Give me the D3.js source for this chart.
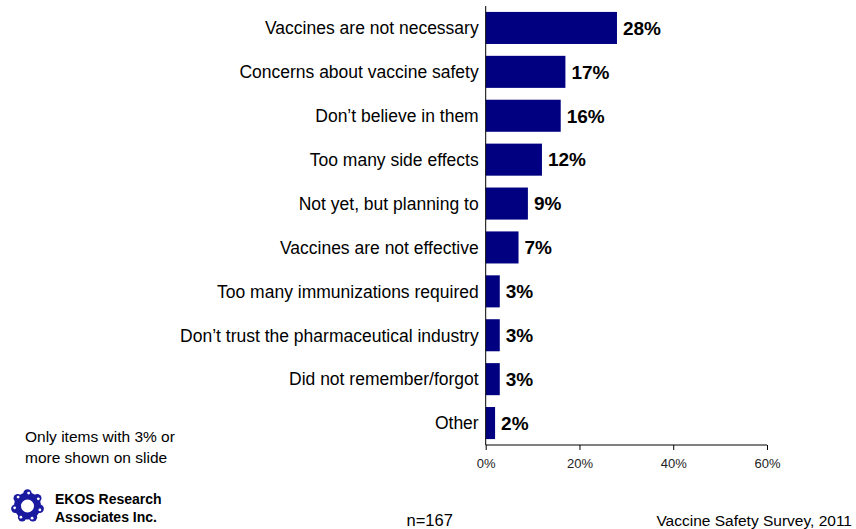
<!DOCTYPE html>
<html>
<head>
<meta charset="utf-8">
<script src="https://cdn.jsdelivr.net/npm/d3@7"></script>
<style>
  html, body { margin: 0; padding: 0; background: #fff; }
  svg { display: block; }
  text { font-family: "Liberation Sans", Arial, sans-serif; }
</style>
</head>
<body>
<svg id="chart" width="856" height="529"></svg>
<script>
const categories = [
  "Vaccines are not necessary",
  "Concerns about vaccine safety",
  "Don\u2019t believe in them",
  "Too many side effects",
  "Not yet, but planning to",
  "Vaccines are not effective",
  "Too many immunizations required",
  "Don\u2019t trust the pharmaceutical industry",
  "Did not remember/forgot",
  "Other"
];
const values = [28, 17, 16, 12, 9, 7, 3, 3, 3, 2];
const tickValues = [0, 20, 40, 60];

const svg = d3.select("#chart");

const x = d3.scaleLinear().domain([0, 60]).range([485.7, 767]);
const y = d3.scaleBand().domain(categories).range([6, 445])
  .paddingInner(0.27).paddingOuter(0.135);

// bars
svg.append("g").selectAll("rect").data(values).join("rect")
  .attr("x", x(0))
  .attr("y", (d, i) => y(categories[i]))
  .attr("width", d => x(d) - x(0))
  .attr("height", y.bandwidth())
  .attr("fill", "#000080");

// value labels
svg.append("g").selectAll("text").data(values).join("text")
  .attr("x", d => x(d) + 6)
  .attr("y", (d, i) => y(categories[i]) + y.bandwidth() / 2)
  .attr("dy", "0.36em")
  .attr("font-size", "19px")
  .attr("font-weight", "bold")
  .attr("fill", "#000")
  .text(d => d + "%");

// category labels
svg.append("g").selectAll("text").data(categories).join("text")
  .attr("x", x(0) - 7)
  .attr("y", d => y(d) + y.bandwidth() / 2)
  .attr("dy", "0.36em")
  .attr("text-anchor", "end")
  .attr("font-size", "17.5px")
  .attr("fill", "#000")
  .text(d => d);

// y axis line
svg.append("line")
  .attr("x1", x(0)).attr("x2", x(0))
  .attr("y1", 6).attr("y2", 445)
  .attr("stroke", "#000").attr("stroke-width", 1);

// x axis
const xAxis = d3.axisBottom(x)
  .tickValues(tickValues)
  .tickFormat(d => d + "%")
  .tickSize(5)
  .tickPadding(9);
const gx = svg.append("g").attr("transform", "translate(0,445)").call(xAxis);
gx.select(".domain").attr("stroke", "#000").attr("d", `M${x(0)},0H${x(60)}`);
gx.selectAll(".tick line").attr("stroke", "#000");
gx.selectAll(".tick text")
  .attr("font-size", "13px")
  .attr("font-family", "'Liberation Sans', Arial, sans-serif")
  .attr("fill", "#222");

// footnote
const foot = svg.append("text")
  .attr("x", 25).attr("y", 442)
  .attr("font-size", "15.5px").attr("fill", "#000");
foot.append("tspan").attr("x", 25).attr("dy", 0).text("Only items with 3% or");
foot.append("tspan").attr("x", 25).attr("dy", 21).text("more shown on slide");

// logo
const logo = svg.append("g").attr("transform", "translate(27.5,506)");
logo.append("circle").attr("r", 10).attr("fill", "none")
  .attr("stroke", "#1a1aa0").attr("stroke-width", 7);
d3.range(7).forEach(i => {
  const a = i * 2 * Math.PI / 7 - Math.PI / 2;
  const cx = Math.cos(a) * 12.5, cy = Math.sin(a) * 12.5;
  logo.append("circle").attr("cx", cx).attr("cy", cy).attr("r", 4.2)
    .attr("fill", "#1a1aa0");
  logo.append("circle").attr("cx", cx + Math.cos(a + 1.2) * 1.2)
    .attr("cy", cy + Math.sin(a + 1.2) * 1.2).attr("r", 1.4)
    .attr("fill", "#fff");
});
logo.append("circle").attr("r", 5).attr("fill", "#fff");

svg.append("text").attr("x", 55).attr("y", 504)
  .attr("font-size", "14px").attr("font-weight", "bold").attr("fill", "#000")
  .text("EKOS Research");
svg.append("text").attr("x", 55).attr("y", 522)
  .attr("font-size", "14px").attr("font-weight", "bold").attr("fill", "#000")
  .text("Associates Inc.");

// bottom texts
svg.append("text").attr("x", 406.5).attr("y", 526)
  .attr("font-size", "16.5px").attr("fill", "#000").text("n=167");
svg.append("text").attr("x", 852).attr("y", 526)
  .attr("text-anchor", "end")
  .attr("font-size", "15.5px").attr("fill", "#000").text("Vaccine Safety Survey, 2011");
</script>
</body>
</html>
